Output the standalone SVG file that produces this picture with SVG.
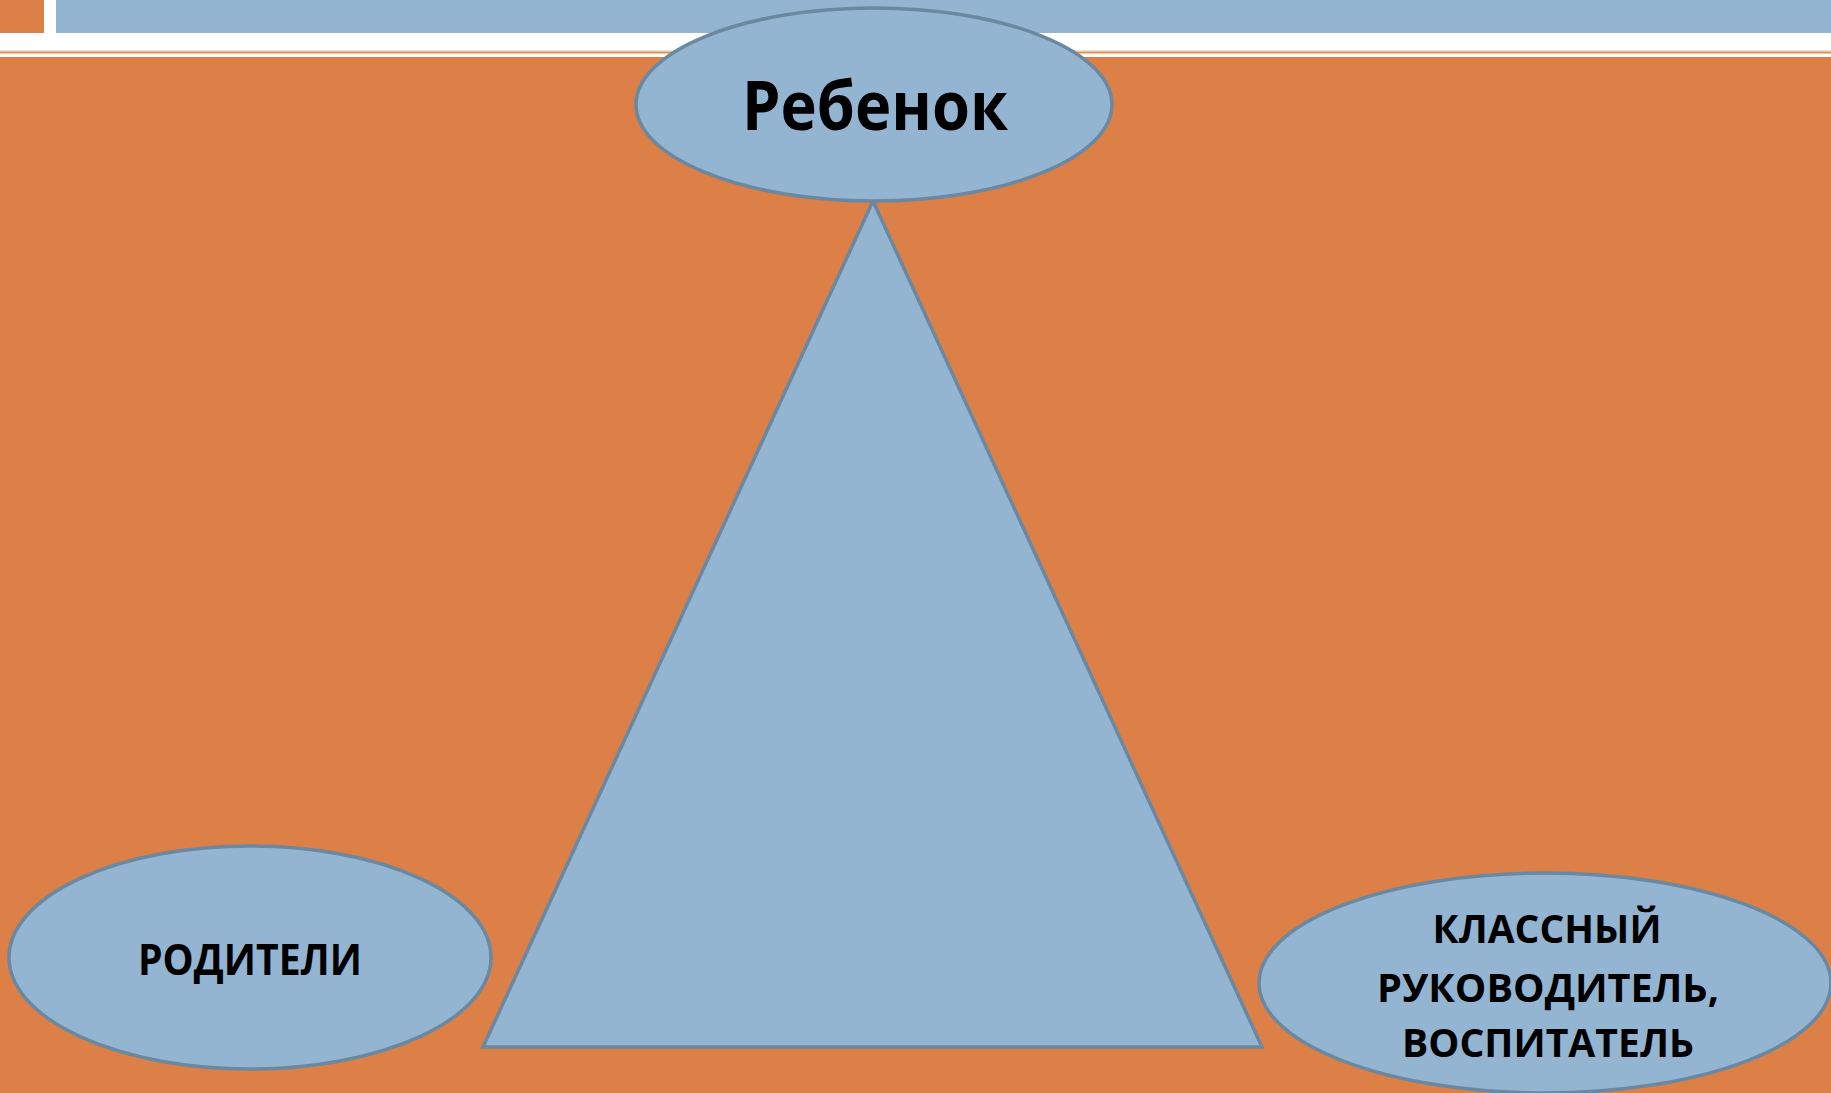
<svg xmlns="http://www.w3.org/2000/svg" width="1831" height="1093" viewBox="0 0 1831 1093">
<style>
.shape{fill:#94B5D2;stroke:#6A88A0;stroke-width:3.5}
.lbl{font-family:"Open Sans","Noto Sans","Liberation Sans",sans-serif;font-weight:bold;fill:#000;text-anchor:middle}
</style>
<g id="background">
<rect x="0" y="0" width="1831" height="1093" fill="#FFFFFF"/>
<rect x="0" y="57" width="1831" height="1036" fill="#DC8048"/>
<rect x="0" y="0" width="44" height="33" fill="#DC8048"/>
<rect x="56" y="0" width="1775" height="33" fill="#94B5D2"/>
<rect x="0" y="50" width="1831" height="1.5" fill="#E2E2E2"/>
<rect x="0" y="51.5" width="1831" height="2" fill="#E8904F"/>
</g>
<g id="connectors">
<polygon id="triangle" class="shape" points="873,201 483,1047 1262,1047"/>
</g>
<g id="node-child">
<ellipse class="shape" cx="874" cy="104.5" rx="238" ry="96.5"/>
<text class="lbl" x="875" y="130" font-size="68" textLength="266" lengthAdjust="spacingAndGlyphs">Ребенок</text>
</g>
<g id="node-parents">
<ellipse class="shape" cx="250" cy="957.5" rx="241" ry="111.5"/>
<text class="lbl" x="250" y="975" font-size="43" textLength="224" lengthAdjust="spacingAndGlyphs">РОДИТЕЛИ</text>
</g>
<g id="node-teacher">
<ellipse class="shape" cx="1545" cy="983" rx="286" ry="110"/>
<text class="lbl" x="1547" y="943" font-size="39" textLength="229" lengthAdjust="spacingAndGlyphs">КЛАССНЫЙ</text>
<text class="lbl" x="1548" y="1002" font-size="39" textLength="342" lengthAdjust="spacingAndGlyphs">РУКОВОДИТЕЛЬ,</text>
<text class="lbl" x="1548" y="1057" font-size="39" textLength="292" lengthAdjust="spacingAndGlyphs">ВОСПИТАТЕЛЬ</text>
</g>
</svg>
